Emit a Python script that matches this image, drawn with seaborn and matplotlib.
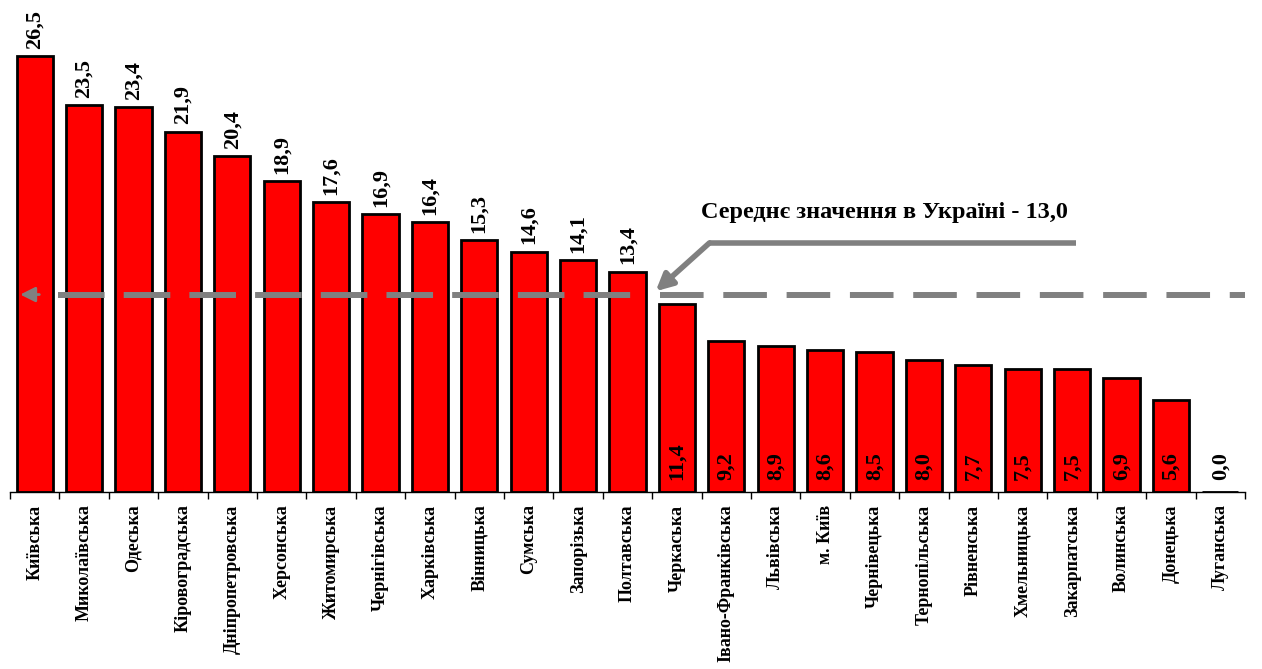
import matplotlib.pyplot as plt
import pandas as pd
import seaborn as sns

# Data
regions = ['Київська', 'Миколаївська', 'Одеська', 'Кіровоградська', 'Дніпропетровська',
           'Херсонська', 'Житомирська', 'Чернігівська', 'Харківська', 'Вінницька',
           'Сумська', 'Запорізька', 'Полтавська', 'Черкаська', 'Івано-Франківська',
           'Львівська', 'м. Київ', 'Чернівецька', 'Тернопільська', 'Рівненська',
           'Хмельницька', 'Закарпатська', 'Волинська', 'Донецька', 'Луганська']
values = [26.5, 23.5, 23.4, 21.9, 20.4, 18.9, 17.6, 16.9, 16.4, 15.3, 14.6, 14.1, 13.4,
          11.4, 9.2, 8.9, 8.6, 8.5, 8.0, 7.7, 7.5, 7.5, 6.9, 5.6, 0.0]
mean_value = 13.0
mean_label = 'Середнє значення в Україні - 13,0'

df = pd.DataFrame({'region': regions, 'value': values})

sns.set_style('white')
plt.rcParams['font.family'] = ['Liberation Serif', 'DejaVu Serif']
plt.rcParams['font.weight'] = 'bold'
plt.rcParams['text.color'] = 'black'
plt.rcParams['xtick.color'] = 'black'
plt.rcParams['xtick.labelcolor'] = 'black'

fig = plt.figure(figsize=(12.62, 6.69), dpi=100)
ax = fig.add_axes([10 / 1262, 177 / 669, 1235 / 1262, 492 / 669])

sns.barplot(data=df, x='region', y='value', order=regions, color='#ff0000',
            edgecolor='black', linewidth=2, width=0.73, saturation=1, ax=ax, zorder=2)

ax.set_xlim(-0.5, len(regions) - 0.5)
ax.set_ylim(0, 29.9)

# value labels
for i, v in enumerate(values):
    txt = f'{v:.1f}'.replace('.', ',')
    if v > mean_value:
        ax.text(i, v + 0.45, txt, rotation=90, ha='center', va='bottom',
                fontsize=16, fontweight='bold', color='black')
    else:
        ax.text(i, 0.7, txt, rotation=90, ha='center', va='bottom',
                fontsize=16, fontweight='bold', color='black', zorder=5)

# average line (drawn slightly below bar tops as in the original)
line_y = 12.0
ax.plot([0.47, 12.25], [line_y, line_y], color='#808080', lw=4.3,
        dashes=(7.8, 3.2), solid_capstyle='butt', zorder=4)
ax.plot([12.65, 24.5], [line_y, line_y], color='#808080', lw=4.3,
        dashes=(7.3, 3.3), solid_capstyle='butt', zorder=4)
ax.annotate('', xy=(-0.35, line_y), xytext=(0.15, line_y),
            arrowprops=dict(arrowstyle='-|>,head_length=0.9,head_width=0.45',
                            color='#808080', lw=2), zorder=4)

# annotation arrow
ax.plot([13.64, 21.07], [15.14, 15.14], color='#808080', lw=4, solid_capstyle='butt', zorder=4)
ax.annotate('', xy=(12.57, 12.2), xytext=(13.66, 15.14),
            arrowprops=dict(arrowstyle='-|>,head_length=1.0,head_width=0.5',
                            color='#808080', lw=4, shrinkA=0, shrinkB=0), zorder=4)
ax.text(17.2, 17.0, mean_label, ha='center', va='center', fontsize=17.5,
        fontweight='bold', color='black')

# axes styling
sns.despine(ax=ax, left=True, top=True, right=True)
ax.set_yticks([])
ax.set_xlabel('')
ax.set_ylabel('')
ax.set_xticks(range(len(regions)))
ax.set_xticklabels(regions, rotation=90, fontsize=13, fontweight='bold', va='top', color='black')
ax.set_xticks([i - 0.5 for i in range(len(regions) + 1)], minor=True)
ax.tick_params(axis='x', which='major', length=0, pad=9)
ax.tick_params(axis='x', which='minor', length=5, width=1, color='black', direction='out', bottom=True)
ax.spines['bottom'].set_color('black')
ax.spines['bottom'].set_linewidth(1)

fig.savefig('out.png', dpi=100)
